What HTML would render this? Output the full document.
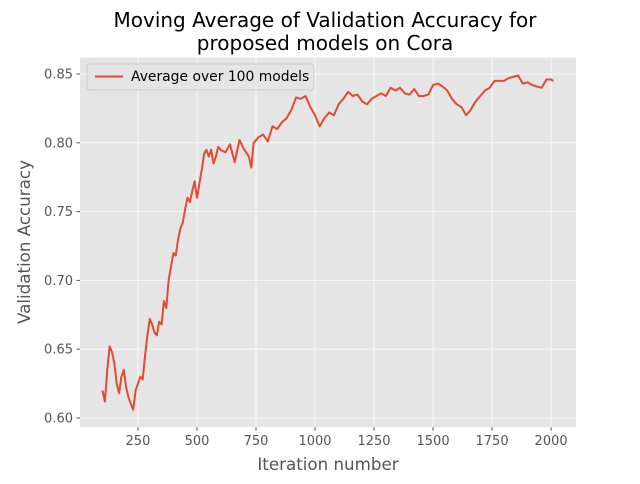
<!DOCTYPE html>
<html><head><meta charset="utf-8"><style>
body{margin:0;background:#fff;font-family:"DejaVu Sans","Liberation Sans",sans-serif}
</style></head><body>
<svg id="chart" width="640" height="480" xmlns="http://www.w3.org/2000/svg">
<rect x="0" y="0" width="640" height="480" fill="#fff"/>
<rect x="80" y="57.6" width="496" height="369.6" fill="#e5e5e5"/>
<g id="grid"></g>
<g id="ticks"></g>
<path id="line" fill="none" stroke="#e24a33" stroke-width="2" stroke-linejoin="round"/>
<text x="325" y="27" text-anchor="middle" font-size="20" fill="#000">Moving Average of Validation Accuracy for</text>
<text x="325" y="50" text-anchor="middle" font-size="20" fill="#000">proposed models on Cora</text>
<text x="328" y="470" text-anchor="middle" font-size="16.7" fill="#555">Iteration number</text>
<text transform="translate(30,242) rotate(-90)" text-anchor="middle" font-size="16.7" fill="#555">Validation Accuracy</text>
<g>
<rect x="87" y="64" width="227" height="26" rx="3" fill="#e5e5e5" stroke="#ccc" stroke-width="1"/>
<line x1="95" y1="76.5" x2="123" y2="76.5" stroke="#e24a33" stroke-width="2"/>
<text x="131" y="81" font-size="13.9" fill="#000">Average over 100 models</text>
</g>
</svg>
<script>
const iterations=[100,110,120,130,140,150,160,170,180,190,200,210,220,230,240,250,260,270,280,290,300,310,320,330,340,350,360,370,380,390,400,410,420,430,440,450,460,470,480,490,500,510,520,530,540,550,560,570,580,590,600,620,640,660,680,700,720,730,740,760,780,800,820,840,860,880,900,920,940,960,980,1000,1020,1040,1060,1080,1100,1120,1140,1160,1180,1200,1220,1240,1260,1280,1300,1320,1340,1360,1380,1400,1420,1440,1460,1480,1500,1520,1540,1560,1580,1600,1620,1640,1660,1680,1700,1720,1740,1760,1780,1800,1820,1840,1860,1880,1900,1920,1940,1960,1980,2000,2010];
const accuracy=[0.62,0.612,0.635,0.652,0.648,0.64,0.625,0.618,0.63,0.635,0.622,0.615,0.61,0.606,0.62,0.625,0.63,0.628,0.645,0.66,0.672,0.668,0.662,0.66,0.67,0.668,0.685,0.68,0.7,0.71,0.72,0.718,0.73,0.738,0.742,0.752,0.76,0.757,0.765,0.772,0.76,0.77,0.78,0.792,0.795,0.79,0.795,0.785,0.79,0.797,0.795,0.793,0.799,0.786,0.802,0.795,0.79,0.782,0.8,0.804,0.806,0.801,0.812,0.81,0.815,0.818,0.824,0.833,0.832,0.834,0.826,0.82,0.812,0.818,0.822,0.82,0.828,0.832,0.837,0.834,0.835,0.83,0.828,0.832,0.834,0.836,0.834,0.84,0.838,0.84,0.836,0.835,0.839,0.834,0.834,0.835,0.842,0.843,0.841,0.838,0.832,0.828,0.826,0.82,0.824,0.83,0.834,0.838,0.84,0.845,0.845,0.845,0.847,0.848,0.849,0.843,0.844,0.842,0.841,0.84,0.846,0.846,0.845];
const xTicks=[250,500,750,1000,1250,1500,1750,2000];
const yTicks=[0.60,0.65,0.70,0.75,0.80,0.85];
const yTickLabels=["0.60","0.65","0.70","0.75","0.80","0.85"];
const NS="http://www.w3.org/2000/svg";
const X0=80,X1=576,Y0=427.2,Y1=57.6;
const xmin=4.5,xmax=2105.5;
function xs(v){return X0+(v-xmin)/(xmax-xmin)*(X1-X0);}
function ys(v){return 418-(v-0.6)/0.05*68.8;}
const grid=document.getElementById('grid'),ticks=document.getElementById('ticks');
xTicks.forEach(t=>{
  const l=document.createElementNS(NS,'line');
  
  
  l.setAttribute('x1',xs(t));l.setAttribute('x2',xs(t));l.setAttribute('y1',Y1);l.setAttribute('y2',Y0);
  l.setAttribute('stroke','#fff');l.setAttribute('stroke-width','0.8');grid.appendChild(l);
  const tk=document.createElementNS(NS,'line');
  
  
  tk.setAttribute('x1',xs(t));tk.setAttribute('x2',xs(t));tk.setAttribute('y1',Y0);tk.setAttribute('y2',Y0+3.5);
  tk.setAttribute('stroke','#555');ticks.appendChild(tk);
  const tx=document.createElementNS(NS,'text');
  
  
  tx.setAttribute('x',xs(t));tx.setAttribute('y',Y0+18);tx.setAttribute('text-anchor','middle');
  tx.setAttribute('font-size','13');tx.setAttribute('fill','#555');tx.textContent=t;ticks.appendChild(tx);
});
yTicks.forEach((t,i)=>{
  const l=document.createElementNS(NS,'line');
  
  
  l.setAttribute('x1',X0);l.setAttribute('x2',X1);l.setAttribute('y1',ys(t));l.setAttribute('y2',ys(t));
  l.setAttribute('stroke','#fff');l.setAttribute('stroke-width','0.8');grid.appendChild(l);
  const tk=document.createElementNS(NS,'line');
  
  
  tk.setAttribute('x1',X0-3.5);tk.setAttribute('x2',X0);tk.setAttribute('y1',ys(t));tk.setAttribute('y2',ys(t));
  tk.setAttribute('stroke','#555');ticks.appendChild(tk);
  const tx=document.createElementNS(NS,'text');
  
  
  tx.setAttribute('x',X0-7);tx.setAttribute('y',ys(t)+4.5);tx.setAttribute('text-anchor','end');
  tx.setAttribute('font-size','13');tx.setAttribute('fill','#555');tx.textContent=yTickLabels[i];ticks.appendChild(tx);
});
document.getElementById('line').setAttribute('d',iterations.map((v,i)=>(i?'L':'M')+xs(v).toFixed(1)+','+ys(accuracy[i]).toFixed(1)).join(''));
</script>
</body></html>
